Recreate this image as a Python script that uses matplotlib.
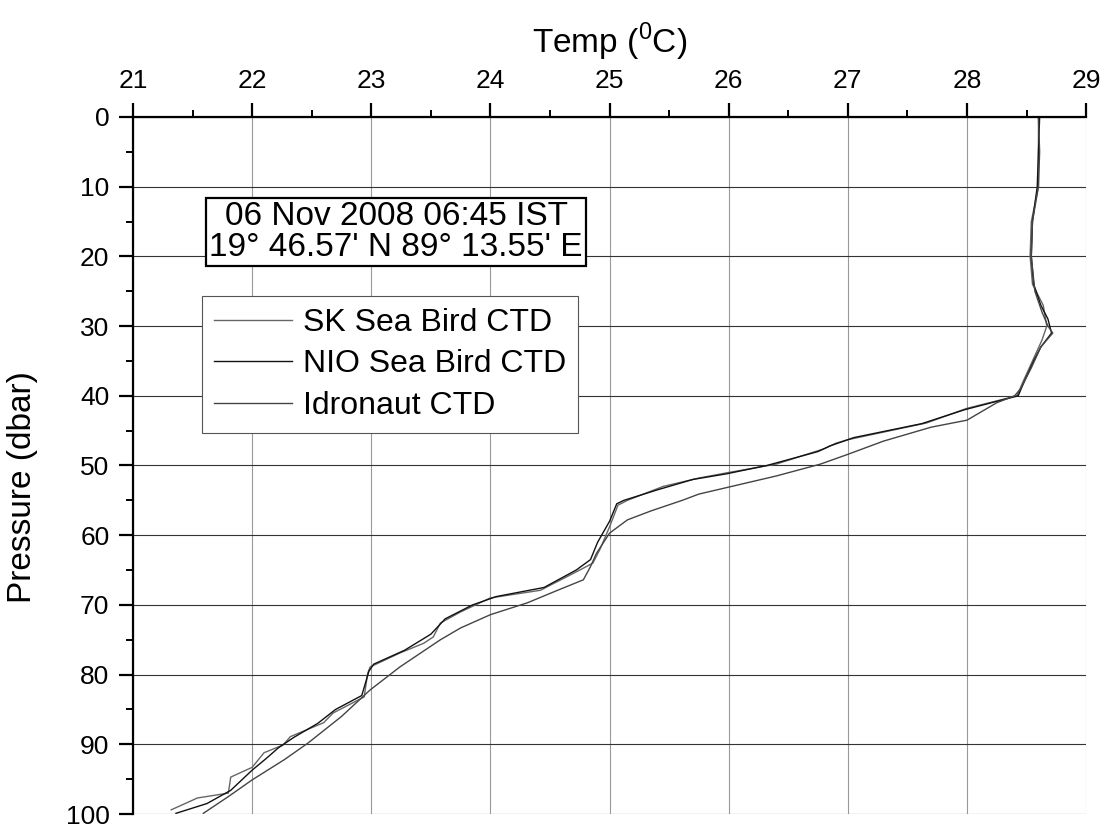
import matplotlib
matplotlib.use("Agg")
import matplotlib.pyplot as plt

plt.rcParams['font.family'] = ['Liberation Sans', 'DejaVu Sans']
plt.rcParams['mathtext.fontset'] = 'custom'
plt.rcParams['mathtext.rm'] = 'Liberation Sans'

# SK Sea Bird CTD
sk_pres = [0, 5, 10, 15, 20, 24, 27, 30, 32, 35, 38, 40, 41.8, 43.9, 46.3, 46.8, 47.6,
           49.8, 51, 51.8, 53, 55, 55.7, 58.8, 62, 64, 65, 67.9, 69, 69.8, 71, 72.6,
           74.6, 75.5, 76.9, 78.9, 79.8, 83.2, 85.5, 86.9, 88.9, 90.1, 91.2, 93.3,
           94.7, 97, 97.7, 99.4]
sk_temp = [28.60, 28.60, 28.60, 28.54, 28.53, 28.55, 28.64, 28.67, 28.63, 28.55, 28.47,
           28.42, 28.00, 27.66, 27.00, 26.90, 26.80, 26.40, 26.00, 25.75, 25.45, 25.15,
           25.07, 25.00, 24.92, 24.86, 24.75, 24.42, 24.00, 23.90, 23.75, 23.58, 23.52,
           23.44, 23.24, 22.99, 22.97, 22.94, 22.68, 22.60, 22.32, 22.26, 22.10, 22.00,
           21.82, 21.80, 21.54, 21.32]

# NIO Sea Bird CTD
nio_pres = [0, 5, 10, 15, 20, 24, 27, 29, 31, 33, 35, 38, 40, 42, 44, 46, 47.2, 48, 50,
            51.2, 52, 53.5, 55, 55.5, 58, 61, 63.5, 65, 67.5, 68.8, 70, 72, 74.2, 76.5,
            78.5, 79.5, 83, 85, 87, 89, 90.5, 92, 93.7, 96.6, 98.5, 99.9]
nio_temp = [28.61, 28.60, 28.59, 28.55, 28.54, 28.56, 28.62, 28.68, 28.71, 28.62, 28.56,
            28.48, 28.43, 27.98, 27.62, 27.05, 26.85, 26.75, 26.32, 25.98, 25.70, 25.40,
            25.12, 25.06, 25.00, 24.90, 24.84, 24.72, 24.45, 24.05, 23.85, 23.62, 23.50,
            23.28, 23.02, 22.98, 22.92, 22.70, 22.55, 22.35, 22.22, 22.12, 22.00, 21.82,
            21.62, 21.36]

# Idronaut CTD
idr_pres = [0, 5, 10, 15, 20, 25, 28, 30, 31, 33, 36, 39, 40, 41, 43.5, 44.5, 46.5, 48.4,
            49.8, 51.5, 53.1, 54.1, 55, 56.5, 57.8, 59.7, 62.6, 64.5, 66.4, 68, 69.7,
            71.4, 73.3, 75, 78.9, 82.2, 86, 89.8, 92.2, 95.1, 97.5, 99.9]
idr_temp = [28.60, 28.61, 28.60, 28.55, 28.54, 28.57, 28.63, 28.68, 28.72, 28.62, 28.54,
            28.45, 28.40, 28.25, 28.00, 27.70, 27.30, 27.00, 26.77, 26.40, 26.00, 25.75,
            25.61, 25.35, 25.15, 25.00, 24.89, 24.84, 24.78, 24.55, 24.31, 24.00, 23.75,
            23.58, 23.24, 22.99, 22.75, 22.47, 22.27, 22.00, 21.80, 21.59]

fig = plt.figure(figsize=(11.06, 8.26), dpi=100)
ax = fig.add_axes([0.1203, 0.0145, 0.8617, 0.8439])

ax.plot(sk_temp, sk_pres, color='#666666', lw=1.0, label='SK Sea Bird CTD')
ax.plot(nio_temp, nio_pres, color='#111111', lw=1.0, label='NIO Sea Bird CTD')
ax.plot(idr_temp, idr_pres, color='#444444', lw=1.0, label='Idronaut CTD')

ax.set_xlim(21, 29)
ax.set_ylim(100, 0)
ax.xaxis.tick_top()
ax.xaxis.set_label_position('top')
ax.set_xticks(range(21, 30))
ax.set_xticks([x + 0.5 for x in range(21, 29)], minor=True)
ax.set_yticks(range(0, 101, 10))
ax.set_yticks(range(5, 100, 10), minor=True)

ax.spines['right'].set_visible(False)
ax.spines['bottom'].set_visible(False)
ax.spines['left'].set_linewidth(1.6)
ax.spines['top'].set_linewidth(1.6)
ax.tick_params(which='major', direction='out', length=10, width=1.6, labelsize=19, pad=7,
               top=True, bottom=False, left=True, right=False)
ax.tick_params(which='minor', direction='out', length=5, width=1.4,
               top=True, bottom=False, left=True, right=False)

ax.grid(True, axis='y', color='#333333', lw=0.8)
ax.grid(True, axis='x', color='#999999', lw=0.8)

ax.set_xlabel(r'Temp ($^0$C)', fontsize=24, labelpad=12)
ax.set_ylabel('Pressure (dbar)', fontsize=24)
ax.yaxis.set_label_coords(-0.0997, 0.469)

ax.text(0.276, 0.835, "06 Nov 2008 06:45 IST\n19\u00b0 46.57' N 89\u00b0 13.55' E",
        transform=ax.transAxes, ha='center', va='center', fontsize=24,
        multialignment='center', linespacing=1.0,
        bbox=dict(boxstyle='square,pad=0.1', fc='white', ec='black', lw=1.6))

leg = ax.legend(loc='upper left', bbox_to_anchor=(0.0724, 0.743), borderaxespad=0,
                fontsize=23, handlelength=2.45, handletextpad=0.35, labelspacing=0.36,
                borderpad=0.37, fancybox=False, framealpha=1, edgecolor='#555555')
leg.get_frame().set_linewidth(0.8)

fig.savefig('out.png', dpi=100)
